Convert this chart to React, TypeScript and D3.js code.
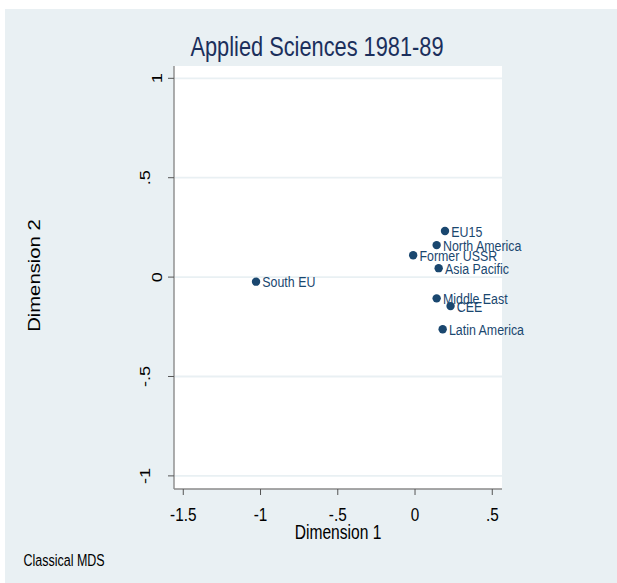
import React from "react";
import * as d3 from "d3";

const names = ["EU15", "North America", "Former USSR", "Asia Pacific", "South EU", "Middle East", "CEE", "Latin America"];
const dim1 = [0.194, 0.14, -0.012, 0.153, -1.029, 0.14, 0.23, 0.179];
const dim2 = [0.232, 0.161, 0.11, 0.045, -0.023, -0.107, -0.146, -0.262];
const xTicks = [-1.5, -1, -0.5, 0, 0.5];
const xTickLabels = ["-1.5", "-1", "-.5", "0", ".5"];
const yTicks = [1, 0.5, 0, -0.5, -1];
const yTickLabels = ["1", ".5", "0", "-.5", "-1"];
const title = "Applied Sciences 1981-89";
const xTitle = "Dimension 1";
const yTitle = "Dimension 2";
const note = "Classical MDS";

const W = 617;
const H = 583;
const S = 1.25; // vertical stretch of text
const FONT = "'Liberation Sans', Arial, Helvetica, sans-serif";
const BG = "#e9f0f3";
const NAVY = "#1a476f";

function HText({ x, y, size, anchor = "start", fill = "#000", children }: any) {
  return (
    <text transform={`translate(${x},${y}) scale(1,${S})`} fontSize={size} textAnchor={anchor} fill={fill} fontFamily={FONT}>
      {children}
    </text>
  );
}
function VText({ x, y, size, anchor = "middle", fill = "#000", children }: any) {
  return (
    <text transform={`translate(${x},${y}) rotate(-90) scale(${S},1)`} fontSize={size} textAnchor={anchor} fill={fill} fontFamily={FONT}>
      {children}
    </text>
  );
}

export default function App() {
  const left = 174, right = 502, top = 66, bottom = 489;
  const x = d3.scaleLinear().domain([-1.56, 0.563]).range([left, right]);
  const y = d3.scaleLinear().domain([-1.066, 1.062]).range([bottom, top]);
  const labelSize = 12.4;
  const capH = 0.716 * labelSize * S;
  return (
    <svg width={W} height={H} style={{ position: "absolute", left: 0, top: 0 }}>
      <rect x={0} y={0} width={W} height={H} fill="#fff" />
      <rect x={5} y={9} width={W - 5} height={H - 9} fill={BG} />
      <rect x={left} y={top} width={right - left} height={bottom - top} fill="#fff" />
      {yTicks.map((t) => (
        <line key={"g" + t} x1={left} x2={right} y1={y(t)} y2={y(t)} stroke={BG} strokeWidth={1.8} />
      ))}
      {/* axes */}
      <line x1={left} x2={left} y1={top} y2={bottom} stroke="#8a8a8a" strokeWidth={1.4} />
      <line x1={left} x2={right} y1={bottom} y2={bottom} stroke="#8a8a8a" strokeWidth={1.4} />
      {yTicks.map((t, i) => (
        <g key={"yt" + t}>
          <line x1={left - 6} x2={left} y1={y(t)} y2={y(t)} stroke="#555" strokeWidth={1} />
          <VText x={yTickLabels[i].length > 1 ? 149.5 : 161.5} y={y(t)} size={14.5}>
            {yTickLabels[i]}
          </VText>
        </g>
      ))}
      {xTicks.map((t, i) => (
        <g key={"xt" + t}>
          <line x1={x(t)} x2={x(t)} y1={bottom} y2={bottom + 6} stroke="#555" strokeWidth={1} />
          <HText x={x(t)} y={521} size={15.3} anchor="middle">
            {xTickLabels[i]}
          </HText>
        </g>
      ))}
      <HText x={(left + right) / 2} y={539} size={15.6} anchor="middle">
        {xTitle}
      </HText>
      <VText x={40} y={275.6} size={16.2}>
        {yTitle}
      </VText>
      <HText x={317} y={56} size={21.8} anchor="middle" fill="#1b2f5c">
        {title}
      </HText>
      <HText x={23.5} y={566} size={12.5}>
        {note}
      </HText>
      {names.map((n, i) => (
        <g key={n}>
          <circle cx={x(dim1[i])} cy={y(dim2[i])} r={4.2} fill={NAVY} />
          <HText x={x(dim1[i]) + 6.3} y={y(dim2[i]) + capH / 2} size={labelSize} fill={NAVY}>
            {n}
          </HText>
        </g>
      ))}
    </svg>
  );
}
